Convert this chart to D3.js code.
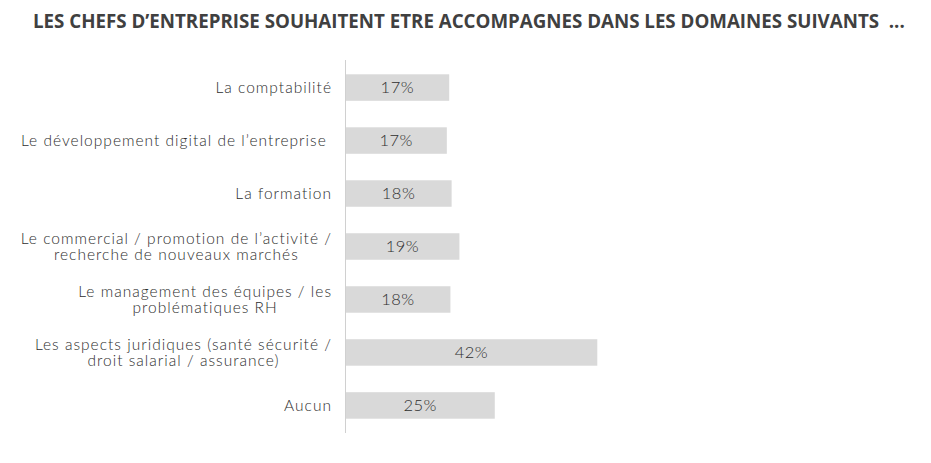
<!DOCTYPE html>
<html><head><meta charset="utf-8">
<script src="https://cdn.jsdelivr.net/npm/d3@7"></script>
<style>body{margin:0;background:#fff}svg{display:block}</style>
</head><body>
<svg id="c" width="931" height="463"></svg>
<script>
const title = "LES CHEFS D\u2019ENTREPRISE SOUHAITENT ETRE ACCOMPAGNES DANS LES DOMAINES SUIVANTS \u00a0...";
const categories = [
  ["La comptabilit\u00e9"],
  ["Le d\u00e9veloppement digital de l\u2019entreprise\u00a0"],
  ["La formation"],
  ["Le commercial / promotion de l\u2019activit\u00e9 /", "recherche de nouveaux march\u00e9s"],
  ["Le management des \u00e9quipes / les", "probl\u00e9matiques RH"],
  ["Les aspects juridiques (sant\u00e9 s\u00e9curit\u00e9 /", "droit salarial / assurance)"],
  ["Aucun"]
];
const values = [17.3, 16.9, 17.7, 19.0, 17.5, 42.0, 24.9];
const valueLabels = ["17%", "17%", "18%", "19%", "18%", "42%", "25%"];

const svg = d3.select("#c");
const titleFont = "'Open Sans', 'DejaVu Sans', sans-serif";
const font = "Lato, 'Open Sans', sans-serif";
const textColor = "#404040";

const x0 = 345.5;
const x = d3.scaleLinear().domain([0, 42]).range([x0, 597.3]);
const y = d3.scaleBand().domain(d3.range(categories.length)).range([60, 433]).paddingInner(0.5).paddingOuter(0.27);

// title
const t = svg.append("text").attr("x", 33).attr("y", 28)
  .attr("font-family", titleFont).attr("font-weight", 700).attr("font-size", 15)
  .attr("fill", textColor).text(title);
const tw = t.node().getComputedTextLength();
t.attr("font-size", 15 * 872 / tw);

// bars
svg.selectAll("rect.bar").data(values).join("rect")
  .attr("class", "bar")
  .attr("x", x(0)).attr("y", (d, i) => y(i))
  .attr("width", d => x(d) - x(0)).attr("height", y.bandwidth())
  .attr("fill", "#d9d9d9");

// axis line
const axis = d3.axisLeft(y).tickSize(0).tickFormat("");
const ag = svg.append("g").attr("transform", `translate(${x0},0)`).call(axis);
ag.select(".domain").attr("stroke", "#d0d0d0").attr("stroke-width", 1).attr("d", "M0,60V433");

// value labels
svg.selectAll("text.val").data(values).join("text")
  .attr("class", "val")
  .attr("x", d => (x(0) + x(d)) / 2)
  .attr("y", (d, i) => y(i) + y.bandwidth() / 2)
  .attr("dy", "0.36em")
  .attr("text-anchor", "middle")
  .attr("font-family", font).attr("font-size", 16.5).attr("font-weight", 300)
  .attr("letter-spacing", 0.5)
  .attr("fill", "#2e2e2e")
  .text((d, i) => valueLabels[i]);

// category labels: multi-line centered block, right aligned at labelRight
const labelRight = 332;
const lineH = 16.7;
const fs = 15.5;
const target = 311;
const probe = svg.append("text").attr("font-family", font).attr("font-weight", 300)
  .attr("font-size", fs).text(categories[1][0]);
let ls = 0;
for (let k = 0; k < 3; k++) {
  probe.attr("letter-spacing", ls);
  const w = probe.node().getComputedTextLength();
  ls += (target - w) / categories[1][0].length;
}
probe.remove();

categories.forEach((lines, i) => {
  const g = svg.append("g");
  const cy = y(i) + y.bandwidth() / 2;
  const texts = lines.map((s, k) => g.append("text")
    .attr("font-family", font).attr("font-size", fs).attr("font-weight", 300)
    .attr("fill", "#2e2e2e")
    .attr("letter-spacing", ls)
    .attr("text-anchor", "middle")
    .attr("y", cy + (k - (lines.length - 1) / 2) * lineH)
    .attr("dy", "0.36em")
    .text(s));
  const widths = texts.map(tx => tx.node().getComputedTextLength());
  const maxW = d3.max(widths);
  texts.forEach(tx => tx.attr("x", labelRight - maxW / 2));
});
</script>
</body></html>
